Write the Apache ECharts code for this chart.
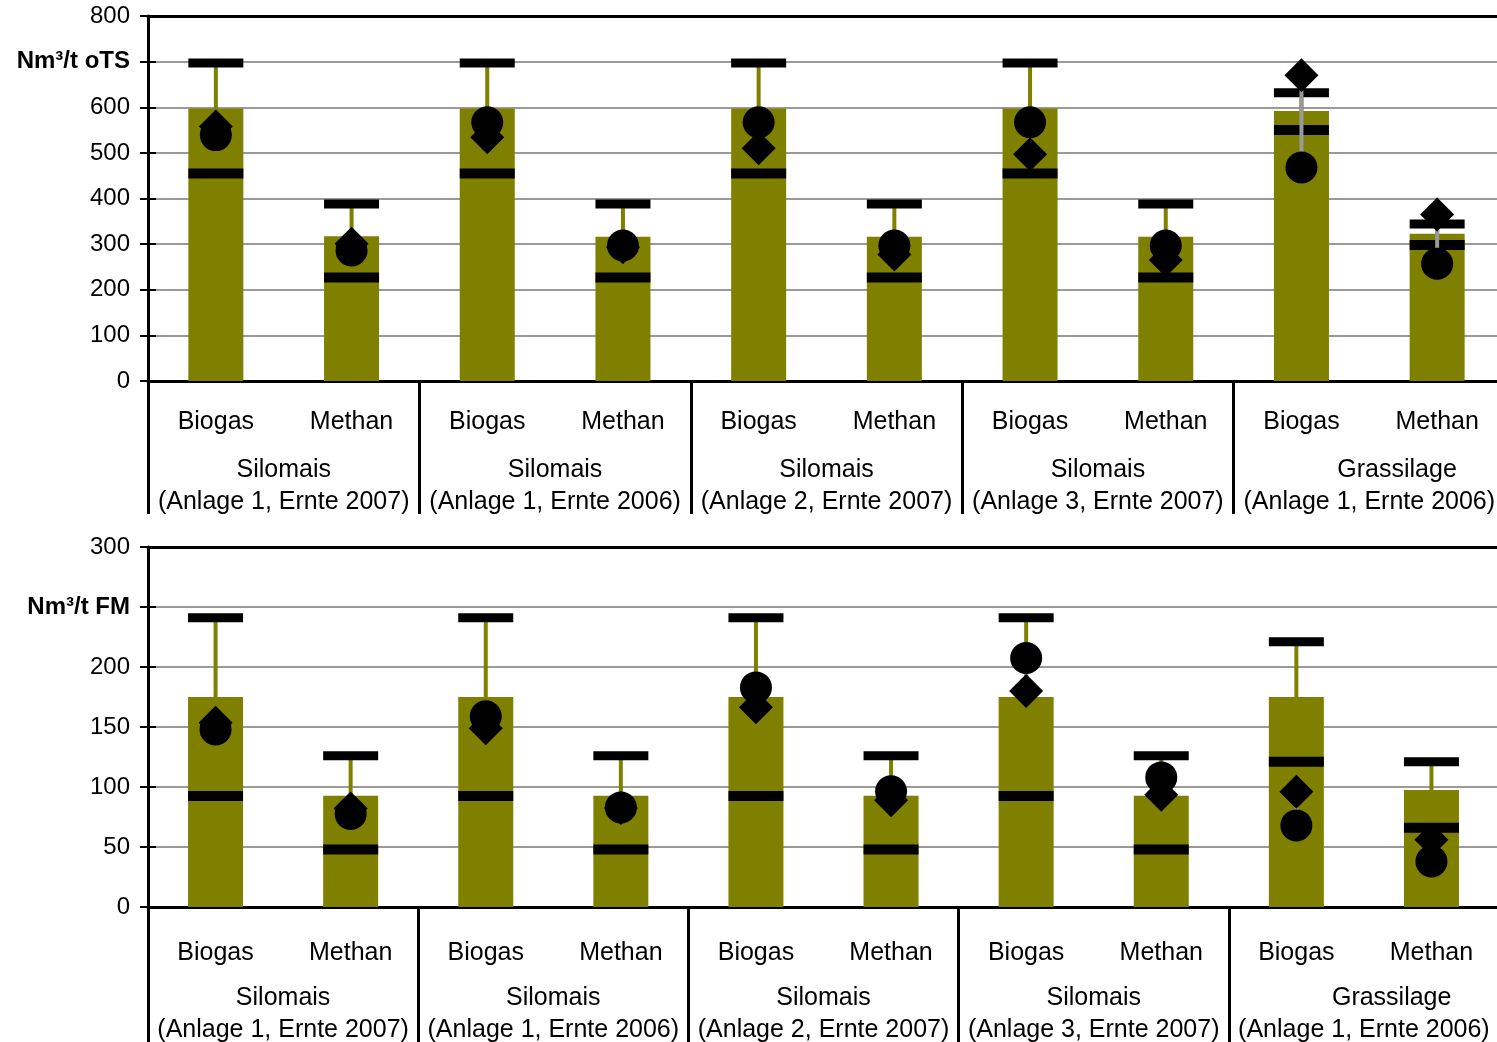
<!DOCTYPE html>
<html>
<head>
<meta charset="utf-8">
<title>Gasausbeute Silomais und Grassilage</title>
<script src="https://cdn.jsdelivr.net/npm/echarts@6/dist/echarts.min.js"></script>
<style>
  html, body { margin: 0; padding: 0; background: #fff; }
  #chart { width: 1497px; height: 1042px; }
</style>
</head>
<body>
<div id="chart"></div>
<script>
// Categories: two gas types per substrate/plant/harvest group
const categories = ['Biogas', 'Methan', 'Biogas', 'Methan', 'Biogas', 'Methan', 'Biogas', 'Methan', 'Biogas', 'Methan'];
const groups = [
  'Silomais\n(Anlage 1, Ernte 2007)',
  'Silomais\n(Anlage 1, Ernte 2006)',
  'Silomais\n(Anlage 2, Ernte 2007)',
  'Silomais\n(Anlage 3, Ernte 2007)',
  '        Grassilage\n(Anlage 1, Ernte 2006)'
];

// Upper panel: yield per tonne organic dry matter (Nm³/t oTS)
const otsTicks = { min: 0, max: 800, interval: 100, unitAt: 700, unit: 'Nm³/t oTS' };
const otsBar     = [597, 317, 597, 316, 597, 316, 597, 316, 592, 323];
const otsUpper   = [697, 388, 697, 388, 697, 388, 697, 388, 632, 344];
const otsLower   = [455, 227, 455, 227, 455, 227, 455, 227, 550, 298];
const otsCircle  = [539, 286, 567, 297, 567, 297, 567, 297, 468, 257];
const otsDiamond = [558, 301, 534, 293, 510, 277, 497, 265, 670, 365];

// Lower panel: yield per tonne fresh matter (Nm³/t FM)
const fmTicks = { min: 0, max: 300, interval: 50, unitAt: 250, unit: 'Nm³/t FM' };
const fmBar     = [175, 92.7, 175, 92.7, 175, 92.7, 175, 92.7, 175, 97.4];
const fmUpper   = [241, 126, 241, 126, 241, 126, 241, 126, 221, 121];
const fmLower   = [92.5, 48, 92.5, 48, 92.5, 48, 92.5, 48, 121, 66];
const fmCircle  = [148, 77.5, 159, 83, 183, 96.5, 207.5, 108, 68, 38];
const fmDiamond = [153.5, 82, 149, 82.5, 166.5, 89, 180, 93.5, 96, 56];

const FONT = '"Liberation Sans", Arial, sans-serif';
const OLIVE = '#808000';
const BAR_W = 55;

const chart = echarts.init(document.getElementById('chart'), null, { renderer: 'canvas' });

function panel(gi, top, height, width, ticks, catMargin, groupMargin, groupTick) {
  const grid = { left: 148, width: width, top: top, height: height, containLabel: false, outerBoundsMode: 'none' };
  const xAxes = [
    { // gas type labels
      type: 'category', gridIndex: gi, data: categories, position: 'bottom',
      axisLine: { show: true, lineStyle: { color: '#000', width: 3 } },
      axisTick: { show: false },
      axisLabel: { interval: 0, margin: catMargin, fontFamily: FONT, fontSize: 25, color: '#000', lineHeight: 25 },
      splitLine: { show: false }
    },
    { // group labels with separators
      type: 'category', gridIndex: gi, data: groups, position: 'bottom',
      axisLine: { show: false },
      axisTick: { show: true, interval: 0, length: groupTick, lineStyle: { color: '#000', width: 3 } },
      axisLabel: { interval: 0, margin: groupMargin, fontFamily: FONT, fontSize: 25, color: '#000', lineHeight: 32, align: 'center' },
      splitLine: { show: false }
    },
    { // top frame line
      type: 'category', gridIndex: gi, data: categories, position: 'top',
      axisLine: { show: true, lineStyle: { color: '#000', width: 3 } },
      axisTick: { show: false }, axisLabel: { show: false }, splitLine: { show: false }
    }
  ];
  const yAxes = [
    {
      type: 'value', gridIndex: gi, min: ticks.min, max: ticks.max, interval: ticks.interval, position: 'left',
      axisLine: { show: true, lineStyle: { color: '#000', width: 3 } },
      axisTick: { show: true, length: 8, lineStyle: { color: '#000', width: 2 } },
      splitLine: { show: true, lineStyle: { color: '#9a9a9a', width: 2 } },
      axisLabel: {
        margin: 18, fontFamily: FONT, fontSize: 24, color: '#000',
        formatter: v => (v === ticks.unitAt ? '{u|' + ticks.unit + '}' : String(v)),
        rich: { u: { fontFamily: FONT, fontSize: 24, fontWeight: 'bold', color: '#000' } }
      }
    },
    { // inner half of the crossing tick marks
      type: 'value', gridIndex: gi, min: ticks.min, max: ticks.max, interval: ticks.interval, position: 'left',
      axisLine: { show: false },
      axisTick: { show: true, inside: true, length: 8, lineStyle: { color: '#000', width: 2 } },
      axisLabel: { show: false }, splitLine: { show: false }
    }
  ];
  return { grid, xAxes, yAxes };
}

function panelSeries(xi, yi, bar, upper, lower, circle, diamond) {
  const idx = bar.map((_, i) => i);
  const solid = { color: '#000', opacity: 1 };
  return [
    {
      type: 'bar', xAxisIndex: xi, yAxisIndex: yi, data: bar, barWidth: BAR_W,
      itemStyle: { color: OLIVE }, z: 2, silent: true
    },
    { // error bar from bar top up to the upper cap
      type: 'custom', xAxisIndex: xi, yAxisIndex: yi, z: 3, silent: true,
      data: idx.map(i => [i, bar[i], upper[i]]),
      encode: { x: 0, y: [1, 2] },
      renderItem: (params, api) => {
        const a = api.coord([api.value(0), api.value(1)]);
        const b = api.coord([api.value(0), api.value(2)]);
        return { type: 'line', shape: { x1: a[0], y1: a[1], x2: b[0], y2: b[1] },
                 style: { stroke: OLIVE, lineWidth: 4 } };
      }
    },
    {
      type: 'scatter', xAxisIndex: xi, yAxisIndex: yi, data: upper, z: 4, silent: true,
      symbol: 'rect', symbolSize: [BAR_W, 9], itemStyle: solid
    },
    {
      type: 'scatter', xAxisIndex: xi, yAxisIndex: yi, data: lower, z: 4, silent: true,
      symbol: 'rect', symbolSize: [BAR_W, 10], itemStyle: solid
    },
    { // high-low line between the two measured values
      type: 'custom', xAxisIndex: xi, yAxisIndex: yi, z: 5, silent: true,
      data: idx.map(i => [i, diamond[i], circle[i]]),
      encode: { x: 0, y: [1, 2] },
      renderItem: (params, api) => {
        const a = api.coord([api.value(0), api.value(1)]);
        const b = api.coord([api.value(0), api.value(2)]);
        return { type: 'line', shape: { x1: a[0], y1: a[1], x2: b[0], y2: b[1] },
                 style: { stroke: '#999999', lineWidth: 4 } };
      }
    },
    {
      type: 'scatter', xAxisIndex: xi, yAxisIndex: yi, data: diamond, z: 6, silent: true,
      symbol: 'diamond', symbolSize: [34, 34], itemStyle: solid
    },
    {
      type: 'scatter', xAxisIndex: xi, yAxisIndex: yi, data: circle, z: 7, silent: true,
      symbol: 'circle', symbolSize: 32, itemStyle: solid
    }
  ];
}

const p1 = panel(0, 16, 365, 1357, otsTicks, 29, 73, 133);
const p2 = panel(1, 547, 360, 1351, fmTicks, 34, 75, 140);

chart.setOption({
  animation: false,
  backgroundColor: '#fff',
  grid: [p1.grid, p2.grid],
  xAxis: [...p1.xAxes, ...p2.xAxes],
  yAxis: [...p1.yAxes, ...p2.yAxes],
  series: [
    ...panelSeries(0, 0, otsBar, otsUpper, otsLower, otsCircle, otsDiamond),
    ...panelSeries(3, 2, fmBar, fmUpper, fmLower, fmCircle, fmDiamond)
  ]
});
</script>
</body>
</html>
